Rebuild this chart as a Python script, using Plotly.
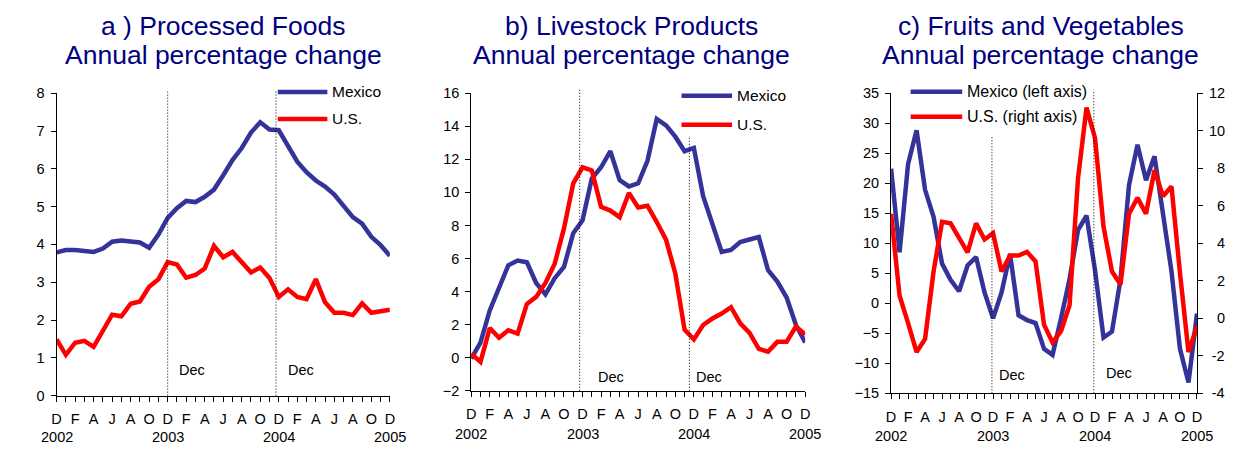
import plotly.graph_objects as go

W, H = 1238, 456

# ---------------- data ----------------
MONTH_INDEX = list(range(37))  # Dec 2002 ... Dec 2005
MONTH_LETTERS = ["D", "F", "A", "J", "A", "O"] * 3 + ["D"]  # every second month
YEAR_LABELS = ["2002", "2003", "2004", "2005"]
YEAR_INDEX = [0, 12, 24, 36]

a_mexico = [3.79, 3.85, 3.85, 3.83, 3.80, 3.89, 4.07, 4.10, 4.08, 4.05,
            3.91, 4.26, 4.70, 4.96, 5.15, 5.12, 5.26, 5.45, 5.83, 6.23,
            6.55, 6.96, 7.23, 7.04, 7.02, 6.58, 6.19, 5.91, 5.69, 5.53,
            5.32, 5.02, 4.72, 4.55, 4.20, 3.98, 3.70]
a_us = [1.49, 1.08, 1.40, 1.45, 1.29, 1.70, 2.14, 2.10, 2.43, 2.49,
        2.88, 3.08, 3.53, 3.47, 3.12, 3.19, 3.36, 3.96, 3.66, 3.80,
        3.53, 3.26, 3.39, 3.11, 2.61, 2.81, 2.61, 2.55, 3.08, 2.47,
        2.19, 2.19, 2.13, 2.44, 2.19, 2.23, 2.27]

b_mexico = [-0.05, 0.92, 2.86, 4.32, 5.59, 5.88, 5.78, 4.52, 3.83, 4.81,
            5.49, 7.53, 8.31, 10.84, 11.52, 12.49, 10.74, 10.36, 10.55, 11.91,
            14.44, 14.05, 13.37, 12.49, 12.69, 9.77, 8.11, 6.40, 6.52, 7.00,
            7.15, 7.30, 5.29, 4.61, 3.64, 1.98, 0.92]
b_us = [0.24, -0.25, 1.79, 1.21, 1.66, 1.46, 3.25, 3.68, 4.52, 5.69,
        7.82, 10.55, 11.52, 11.33, 9.13, 8.90, 8.50, 9.96, 9.09, 9.19,
        8.21, 7.14, 5.10, 1.69, 1.11, 1.98, 2.37, 2.67, 3.06, 2.08,
        1.50, 0.53, 0.37, 0.96, 0.96, 1.89, 1.40]

c_mexico = [22.4, 8.5, 23.2, 28.8, 18.9, 14.4, 6.6, 3.9, 2.0, 6.3,
            7.7, 1.8, -2.5, 1.8, 8.2, -2.0, -2.8, -3.3, -7.6, -8.6,
            -2.5, 4.0, 12.2, 14.6, 5.5, -5.7, -4.7, 4.0, 19.7, 26.4,
            20.5, 24.5, 14.9, 5.3, -7.6, -13.2, -1.7]
c_us = [5.57, 1.20, -0.26, -1.80, -1.10, 2.50, 5.14, 5.06, 4.29, 3.51,
        5.06, 4.20, 4.54, 2.49, 3.34, 3.34, 3.54, 3.03, -0.34, -1.29,
        -0.69, 0.69, 7.46, 11.23, 9.60, 4.88, 2.49, 1.80, 5.57, 6.42,
        5.57, 7.89, 6.51, 7.03, 2.40, -1.80, -0.43]

RIGHT_TICKS = [-4, -2, 0, 2, 4, 6, 8, 10, 12]

TITLES = [("a ) Processed Foods", "Annual percentage change"),
          ("b) Livestock Products", "Annual percentage change"),
          ("c) Fruits and Vegetables", "Annual percentage change")]
LEGEND_NAMES = [("Mexico", "U.S."), ("Mexico", "U.S."),
                ("Mexico (left axis)", "U.S. (right axis)")]

# ---------------- style / layout ----------------
FONT = "Arial, Liberation Sans, sans-serif"
BLUE = "#333399"
RED = "#FF0000"
NAVY = "#000080"
LW = 4.5


def px_x(p):
    return p / W


def px_y(p):
    return 1 - p / H


# plot-area pixel boxes: (left, right, top, bottom)
BOX = {
    "a": (52, 388, 88.3, 401.7),
    "b": (470, 806.7, 88.3, 396.7),
    "c": (893.3, 1201.7, 88.3, 399.3),
}

fig = go.Figure()

# traces
fig.add_trace(go.Scatter(x=MONTH_INDEX, y=a_mexico, mode="lines", line=dict(color=BLUE, width=LW),
                         xaxis="x", yaxis="y", showlegend=False))
fig.add_trace(go.Scatter(x=MONTH_INDEX, y=a_us, mode="lines", line=dict(color=RED, width=LW),
                         xaxis="x", yaxis="y", showlegend=False))
fig.add_trace(go.Scatter(x=MONTH_INDEX, y=b_mexico, mode="lines", line=dict(color=BLUE, width=LW),
                         xaxis="x2", yaxis="y2", showlegend=False))
fig.add_trace(go.Scatter(x=MONTH_INDEX, y=b_us, mode="lines", line=dict(color=RED, width=LW),
                         xaxis="x2", yaxis="y2", showlegend=False))
fig.add_trace(go.Scatter(x=MONTH_INDEX, y=c_mexico, mode="lines", line=dict(color=BLUE, width=LW),
                         xaxis="x3", yaxis="y3", showlegend=False))
fig.add_trace(go.Scatter(x=MONTH_INDEX, y=c_us, mode="lines", line=dict(color=RED, width=LW),
                         xaxis="x3", yaxis="y4", showlegend=False))

tickfont = dict(family=FONT, size=14.5, color="black")
ticktext = []
for i in MONTH_INDEX:
    ticktext.append(MONTH_LETTERS[i // 2] if i % 2 == 0 else "")


def xaxis_cfg(key, anchor):
    l, r, t, b = BOX[key]
    return dict(domain=[px_x(l), px_x(r)], range=[0, 36], anchor=anchor,
                showline=True, linecolor="black", linewidth=1,
                ticks="outside", ticklen=5, tickcolor="black", tickwidth=1,
                tickvals=MONTH_INDEX, ticktext=ticktext, tickfont=tickfont,
                ticklabelstandoff=5,
                showgrid=False, zeroline=False, fixedrange=True)


def yaxis_cfg(key, anchor, rng, dtick, side="left", overlaying=None):
    l, r, t, b = BOX[key]
    d = dict(domain=[px_y(b), px_y(t)], range=rng, dtick=dtick, tick0=rng[0], anchor=anchor,
             showline=True, linecolor="black", linewidth=1,
             ticks="outside", ticklen=5, tickcolor="black", tickwidth=1,
             tickfont=tickfont, showgrid=False, zeroline=False, side=side,
             ticklabelstandoff=3, fixedrange=True)
    if overlaying:
        d["overlaying"] = overlaying
    return d


# right-axis labels padded so they look right-aligned (as in the original)
def pad_label(v):
    s = str(v).replace("-", "-")
    if v < 0:
        return "\u2009" + s
    if abs(v) < 10:
        return "\u2007" + s
    return s


y4 = yaxis_cfg("c", "x3", [-4, 12], 2, side="right", overlaying="y3")
y4.update(tickvals=RIGHT_TICKS, ticktext=[pad_label(v) for v in RIGHT_TICKS])

fig.update_layout(
    width=W, height=H, margin=dict(l=0, r=0, t=0, b=0),
    paper_bgcolor="white", plot_bgcolor="white",
    xaxis=xaxis_cfg("a", "y"),
    yaxis=yaxis_cfg("a", "x", [0, 8], 1),
    xaxis2=xaxis_cfg("b", "y2"),
    yaxis2=yaxis_cfg("b", "x2", [-2, 16], 2),
    xaxis3=xaxis_cfg("c", "y3"),
    yaxis3=yaxis_cfg("c", "x3", [-15, 35], 5),
    yaxis4=y4,
    font=dict(family=FONT, color="black"),
)

annotations = []
shapes = []

# titles
TITLE_CX = [220, 632, 1044]
for (l1, l2), cx in zip(TITLES, TITLE_CX):
    annotations.append(dict(text=l1, x=px_x(cx), y=px_y(19), xref="paper", yref="paper",
                            xanchor="center", yanchor="middle", showarrow=False,
                            font=dict(family=FONT, size=26.5, color=NAVY)))
    annotations.append(dict(text=l2, x=px_x(cx), y=px_y(48.5), xref="paper", yref="paper",
                            xanchor="center", yanchor="middle", showarrow=False,
                            font=dict(family=FONT, size=26.5, color=NAVY)))

# year labels under the month ticks
YEAR_Y = {"a": 445, "b": 442, "c": 444}
for key, xr in (("a", "x"), ("b", "x2"), ("c", "x3")):
    for lab, xi in zip(YEAR_LABELS, YEAR_INDEX):
        annotations.append(dict(text=lab, x=xi, xref=xr, y=px_y(YEAR_Y[key]), yref="paper",
                                xanchor="center", yanchor="middle", showarrow=False,
                                font=dict(family=FONT, size=14.5, color="black")))

# legends (line sample + label)
LEGEND_POS = {  # x0, x1 of sample line, y of rows, label x, font size
    "a": (275, 325, (87, 115), 328, 15.5),
    "b": (682, 733, (91, 121), 736, 15.5),
    "c": (913, 965, (86.7, 112.7), 968, 16),
}
for key, names in zip(("a", "b", "c"), LEGEND_NAMES):
    x0, x1, ys, tx, fs = LEGEND_POS[key]
    for name, yy, col in zip(names, ys, (BLUE, RED)):
        shapes.append(dict(type="line", xref="paper", yref="paper",
                           x0=px_x(x0), x1=px_x(x1), y0=px_y(yy), y1=px_y(yy),
                           line=dict(color=col, width=LW)))
        annotations.append(dict(text=name, x=px_x(tx), y=px_y(yy), xref="paper", yref="paper",
                                xanchor="left", yanchor="middle", showarrow=False,
                                font=dict(family=FONT, size=fs, color="black")))

# dotted "Dec" reference lines: (x index, top pixel)
DEC_LINES = {
    "a": [(12.0, 86.7), (23.7, 86.7)],
    "b": [(11.69, 83.3), (23.52, 133.3)],
    "c": [(11.87, 133.3), (23.86, 85.0)],
}
DEC_TEXT = {  # (x index of text left edge, y in axis units)
    "a": [(13.0, 0.68, "y"), (24.75, 0.68, "y")],
    "b": [(13.5, -1.19, "y2"), (24.06, -1.19, "y2")],
    "c": [(12.46, -11.9, "y3"), (25.1, -11.7, "y3")],
}
for key, xr in (("a", "x"), ("b", "x2"), ("c", "x3")):
    bottom = BOX[key][3]
    for xi, top in DEC_LINES[key]:
        shapes.append(dict(type="line", xref=xr, yref="paper", x0=xi, x1=xi,
                           y0=px_y(bottom), y1=px_y(top),
                           line=dict(color="black", width=1, dash="1px,2px")))
    for xi, yv, yr in DEC_TEXT[key]:
        annotations.append(dict(text="Dec", x=xi, y=yv, xref=xr, yref=yr,
                                xanchor="left", yanchor="middle", showarrow=False,
                                font=dict(family=FONT, size=14.5, color="black")))

fig.update_layout(annotations=annotations, shapes=shapes)

fig.write_html("out.html")
